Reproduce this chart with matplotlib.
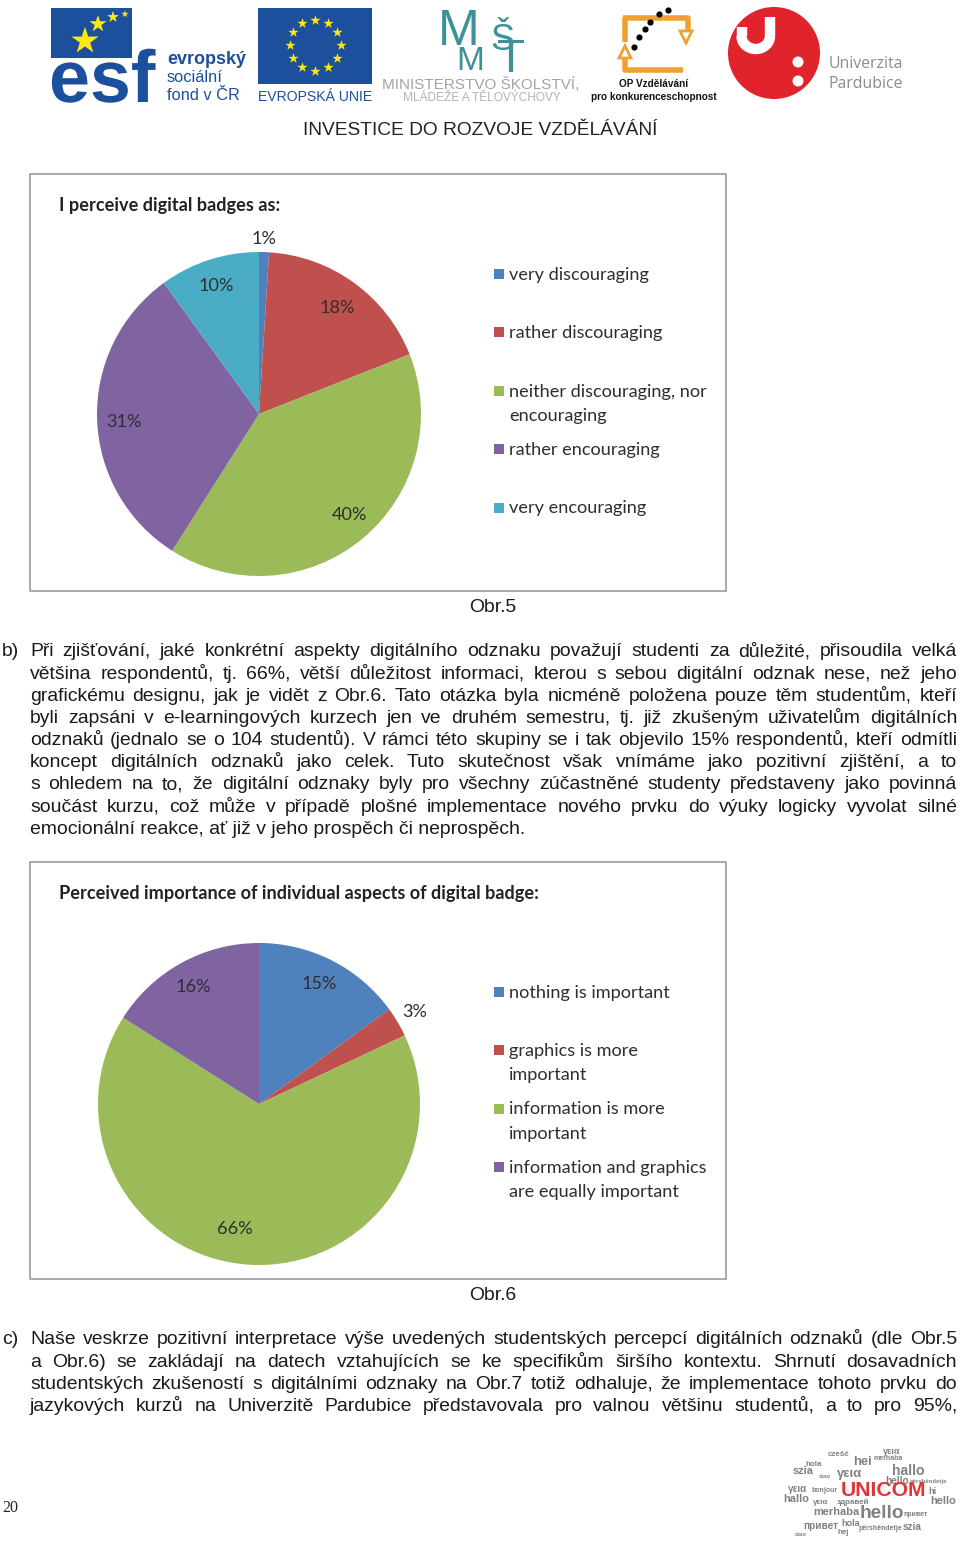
import matplotlib
matplotlib.use("Agg")
import matplotlib.pyplot as plt
from matplotlib.patches import Rectangle, Circle, Polygon, Arc
import matplotlib.patheffects as pe

W = 960
H = 1548

colors = ["#4F81BD", "#C0504D", "#9BBB59", "#8064A2", "#4BACC6"]

title1 = "I perceive digital badges as:"
categories1 = ["very discouraging", "rather discouraging",
               "neither discouraging, nor\nencouraging", "rather encouraging", "very encouraging"]
values1 = [1, 18, 40, 31, 10]

title2 = "Perceived importance of individual aspects of digital badge:"
categories2 = ["nothing is important", "graphics is more\nimportant",
               "information is more\nimportant", "information and graphics\nare equally important"]
values2 = [15, 3, 66, 16]

para_b = [
    "Při zjišťování, jaké konkrétní aspekty digitálního odznaku považují studenti za důležité, přisoudila velká",
    "většina respondentů, tj. 66%, větší důležitost informaci, kterou s\u2009sebou digitální odznak nese, než jeho",
    "grafickému designu, jak je vidět z\u2009Obr.6. Tato otázka byla nicméně položena pouze těm studentům, kteří",
    "byli zapsáni v\u2009e-learningových kurzech jen ve druhém semestru, tj. již zkušeným uživatelům digitálních",
    "odznaků (jednalo se o 104 studentů). V rámci této skupiny se i tak objevilo 15% respondentů, kteří odmítli",
    "koncept digitálních odznaků jako celek. Tuto skutečnost však vnímáme jako pozitivní zjištění, a to",
    "s\u2009ohledem na to, že digitální odznaky byly pro  všechny zúčastněné studenty představeny jako povinná",
    "součást kurzu, což může v\u2009případě plošné implementace nového prvku do výuky logicky vyvolat silné",
    "emocionální reakce, ať již v jeho prospěch či neprospěch.",
]
para_c = [
    "Naše veskrze pozitivní interpretace výše uvedených studentských percepcí digitálních odznaků (dle Obr.5",
    "a Obr.6) se zakládají na datech vztahujících se ke specifikům širšího kontextu. Shrnutí dosavadních",
    "studentských zkušeností s\u2009digitálními odznaky na Obr.7 totiž odhaluje, že implementace tohoto prvku do",
    "jazykových kurzů na Univerzitě Pardubice představovala pro valnou většinu studentů, a to pro 95%,",
]

cloud_words = ["czešć", "γεια", "hei", "merhaba", "hola", "szia", "γεια", "ciao", "hallo", "hello",
               "përshëndetje", "γεια", "bonjour", "hi", "hallo", "γεια", "здравей", "hello", "merhaba",
               "hello", "hola", "привет", "привет", "hej", "përshëndetje", "szia", "ciao"]
cloud_x = [828, 883, 853, 873, 805, 793, 837, 819, 892, 885, 910, 788, 812, 928, 783, 813, 837, 930, 813,
           860, 841, 803, 903, 838, 859, 903, 795]
cloud_y = [1455, 1451, 1462, 1459, 1464, 1471, 1474, 1477, 1471, 1481, 1481, 1489, 1490, 1491, 1499, 1502,
           1502, 1501, 1512, 1513, 1523, 1526, 1515, 1532, 1529, 1527, 1534]
cloud_size = [8, 9, 13, 7, 8, 11, 13, 6, 14, 10, 6, 10, 7, 9, 11, 8, 8, 11, 11, 19, 9, 10, 7, 8, 7, 10, 6]

fig = plt.figure(figsize=(W / 100, H / 100), dpi=100, facecolor="white")
page = fig.add_axes([0, 0, 1, 1])
page.set_xlim(0, W)
page.set_ylim(H, 0)
page.axis("off")
page.set_zorder(5)
renderer = fig.canvas.get_renderer()

BODY = dict(family="Liberation Sans", fontsize=13.95, color="#1a1a1a", va="baseline")
CHART = dict(family="Lato", fontsize=13.05, color="#2e2e2e")


def justified(line, x0, x1, y):
    words = line.split()
    widths = []
    for w in words:
        t = page.text(0, 0, w, **BODY)
        widths.append(t.get_window_extent(renderer).width)
        t.remove()
    gap = (x1 - x0 - sum(widths)) / (len(words) - 1)
    x = x0
    for w, wd in zip(words, widths):
        page.text(x, y, w, **BODY)
        x += wd + gap


def draw_pie(cx, cy, r, values, cols):
    ax = fig.add_axes([(cx - r) / W, 1 - (cy + r) / H, 2 * r / W, 2 * r / H])
    ax.pie(values, colors=cols, startangle=90, counterclock=False, radius=1)
    ax.set_xlim(-1, 1)
    ax.set_ylim(-1, 1)


def draw_frame(y0, y1):
    page.add_patch(Rectangle((30, y0), 696, y1 - y0, fill=False, ec="#a3a3a3", lw=1.3))


def draw_legend(labels, cols, y0):
    for i, (lab, c) in enumerate(zip(labels, cols)):
        y = y0 + i * 58.4
        page.add_patch(Rectangle((494, y - 5), 10, 10, fc=c, ec="none"))
        for j, part in enumerate(lab.split("\n")):
            page.text(509, y + 0.7 + j * 24, part, va="center", ha="left", **CHART)


def draw_logos():
    blue = "#1C4F9C"
    yellow = "#FFE812"
    # esf
    page.add_patch(Rectangle((51, 8), 81, 50, fc=blue, ec="none", zorder=1))
    page.text(49, 102, "esf", family="Liberation Sans", fontweight="bold", fontsize=53, color=blue,
              va="baseline", zorder=2, path_effects=[pe.withStroke(linewidth=2, foreground="white")])
    page.scatter([85, 98, 113, 125], [41, 24, 17, 14], s=[420, 170, 80, 30], marker="*", color=yellow,
                 linewidths=0, zorder=3)
    page.text(167, 64, "evropský", family="Liberation Sans", fontweight="bold", fontsize=13, color=blue, va="baseline")
    page.text(167, 82, "sociální", family="Liberation Sans", fontsize=11.8, color=blue, va="baseline")
    page.text(167, 100, "fond v ČR", family="Liberation Sans", fontsize=11.8, color=blue, va="baseline")
    # eu flag
    page.add_patch(Rectangle((258, 8), 114, 76, fc=blue, ec="none"))
    sx = [315, 328, 337, 341, 337, 328, 315, 302, 293, 290, 293, 302]
    sy = [20, 23, 32, 45, 58, 67, 71, 67, 58, 45, 32, 23]
    page.scatter(sx, sy, s=60, marker="*", color=yellow, linewidths=0, zorder=3)
    page.text(315, 101, "EVROPSKÁ UNIE", family="Liberation Sans", fontsize=10.1, color=blue, ha="center", va="baseline")
    # msmt
    teal = "#3E9198"
    for s, x, y, fs in [("M", 438, 45, 36), ("Š", 490, 50, 26), ("M", 456, 70, 24), ("T", 497, 72, 33)]:
        page.text(x, y, s, family="Liberation Sans", fontsize=fs, color=teal, va="baseline")
    page.text(481, 89, "MINISTERSTVO ŠKOLSTVÍ,", family="Liberation Sans", fontsize=11, color="#a3a3a3",
              ha="center", va="baseline")
    page.text(482, 101, "MLÁDEŽE A TĚLOVÝCHOVY", family="Liberation Sans", fontsize=8.6, color="#b3b3b3",
              ha="center", va="baseline")
    # op
    orange = "#F0A030"
    page.plot([625, 625], [42, 17], color=orange, lw=4, solid_capstyle="butt")
    page.plot([623, 688, 688], [18, 18, 31], color=orange, lw=4, solid_capstyle="butt")
    page.plot([625, 625, 683], [58, 70, 70], color=orange, lw=4, solid_capstyle="butt")
    page.add_patch(Polygon([(680, 31), (692, 31), (686, 43)], fc="white", ec=orange, lw=2))
    page.add_patch(Polygon([(619, 58), (631, 58), (625, 46)], fc="white", ec=orange, lw=2))
    page.scatter([634, 639, 645, 650, 659, 668], [47, 37, 29, 22, 14, 10], s=20, color="black", linewidths=0, zorder=3)
    page.text(654, 87, "OP Vzdělávání", family="Liberation Sans", fontweight="bold", fontsize=7.2, color="#111111",
              ha="center", va="baseline")
    page.text(654, 100, "pro konkurenceschopnost", family="Liberation Sans", fontweight="bold", fontsize=7.2,
              color="#111111", ha="center", va="baseline")
    # upce
    red = "#E1232B"
    page.add_patch(Circle((774, 53), 46, fc=red, ec="none"))
    page.plot([741.5, 741.5], [27, 36], color="white", lw=7.5, solid_capstyle="butt")
    page.plot([770, 770], [17, 36], color="white", lw=7.5, solid_capstyle="butt")
    page.add_patch(Arc((755.75, 36), 28.5, 26, theta1=0, theta2=180, color="white", lw=7.5))
    page.add_patch(Circle((798, 62), 5.5, fc="white", ec="none"))
    page.add_patch(Circle((798, 81), 5.5, fc="white", ec="none"))
    page.text(829, 68, "Univerzita", family="Open Sans", fontsize=11.4, color="#8c8c8c", va="baseline")
    page.text(829, 88, "Pardubice", family="Open Sans", fontsize=11.4, color="#8c8c8c", va="baseline")
    page.text(480, 135, "INVESTICE DO ROZVOJE VZDĚLÁVÁNÍ", family="Liberation Sans", fontsize=13.75,
              color="#222222", ha="center", va="baseline")


def draw_cloud():
    for w, x, y, s in zip(cloud_words, cloud_x, cloud_y, cloud_size):
        page.text(x, y, w, family="Liberation Sans", fontsize=s * 0.72, color="#6a6a6a", fontweight="bold",
                  ha="left", va="center", alpha=0.85)
    page.text(883, 1491, "UNICOM", family="Liberation Sans", fontweight="bold", fontsize=15.2, color="#E0333A",
              ha="center", va="center", zorder=6)


draw_logos()

# first chart
draw_frame(174, 591)
page.text(59, 205, title1, family="Lato", fontweight="bold", fontsize=13.05, color="#222222", va="center")
draw_pie(259, 414, 162, values1, colors)
lab_x1 = [264, 337, 349, 124, 216]
lab_y1 = [239, 308, 515, 422, 286]
for v, x, y in zip(values1, lab_x1, lab_y1):
    page.text(x, y, f"{v}%", ha="center", va="center", zorder=5, **CHART)
draw_legend(categories1, colors, 274)
page.text(493, 608, "Obr.5", family="Liberation Sans", fontsize=13.95, color="#1a1a1a", ha="center", va="center")

# text b
page.text(2, 656.5, "b)", **BODY)
for i, line in enumerate(para_b):
    y = 656.5 + i * 22.15
    if i < len(para_b) - 1:
        justified(line, 30, 957, y)
    else:
        page.text(30, y, line, **BODY)

# second chart
draw_frame(862, 1279)
page.text(59, 893.5, title2, family="Lato", fontweight="bold", fontsize=13.05, color="#222222", va="center")
draw_pie(259, 1104, 161, values2, colors[:4])
lab_x2 = [319, 415, 235, 193]
lab_y2 = [984, 1012, 1229, 987]
for v, x, y in zip(values2, lab_x2, lab_y2):
    page.text(x, y, f"{v}%", ha="center", va="center", zorder=5, **CHART)
draw_legend(categories2, colors[:4], 992)
page.text(493, 1296, "Obr.6", family="Liberation Sans", fontsize=13.95, color="#1a1a1a", ha="center", va="center")

# text c
page.text(2, 1344.5, "c)", **BODY)
for i, line in enumerate(para_c):
    justified(line, 30, 957, 1344.5 + i * 22.15)

page.text(2, 1512, "20", family="Liberation Serif", fontsize=11.5, color="#222222", va="baseline")
draw_cloud()

fig.savefig("out.png", dpi=100)
